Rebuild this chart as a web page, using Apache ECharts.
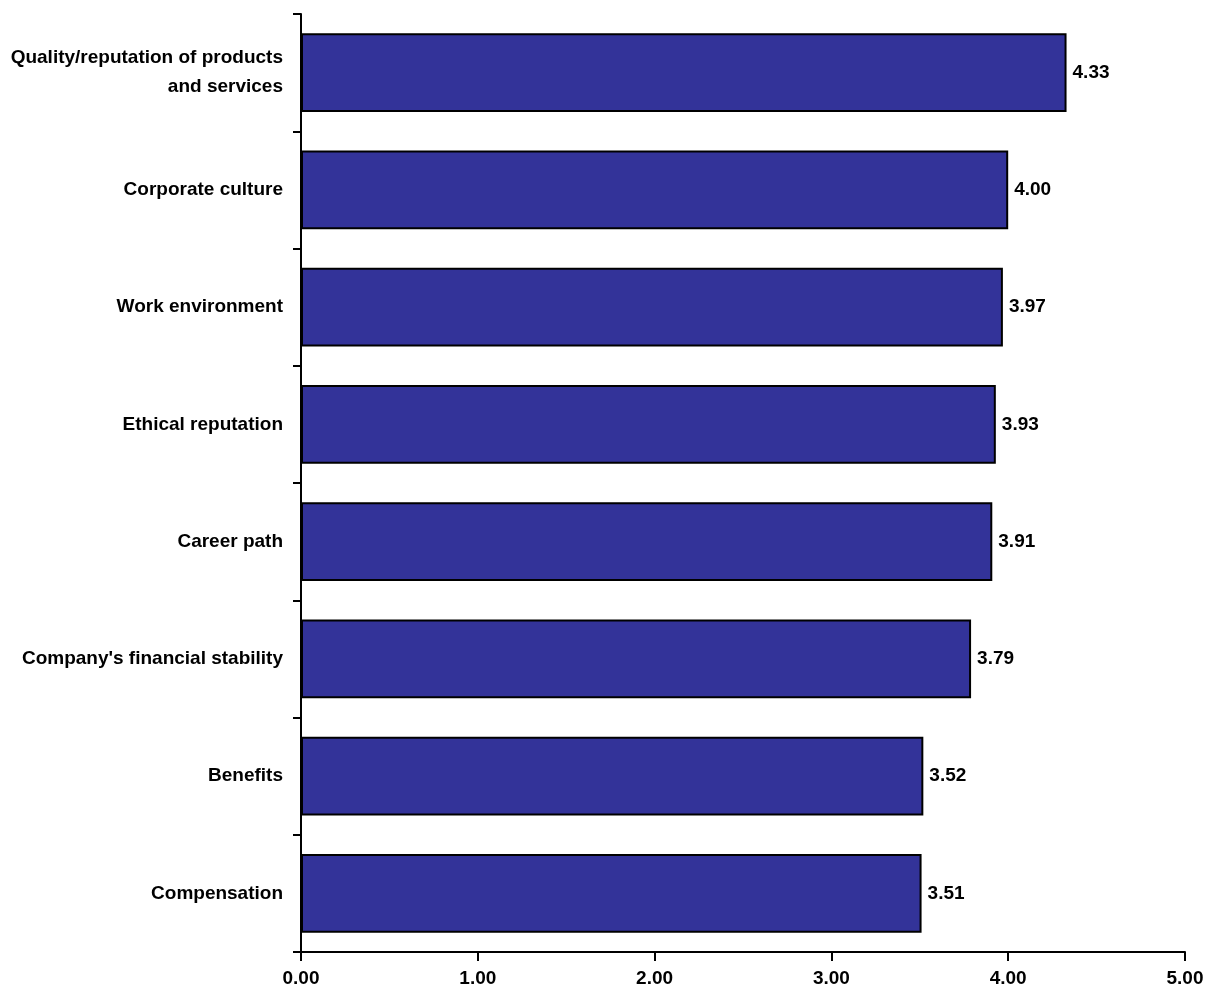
<!DOCTYPE html>
<html>
<head>
<meta charset="utf-8">
<script src="https://cdn.jsdelivr.net/npm/echarts@6/dist/echarts.min.js"></script>
<style>
  html, body { margin: 0; padding: 0; background: #fff; }
  #chart { width: 1215px; height: 999px; }
</style>
</head>
<body>
<div id="chart"></div>
<script>
// Factors rated by respondents (top to bottom) and their mean scores
const categories = [
  'Quality/reputation of products\nand services',
  'Corporate culture',
  'Work environment',
  'Ethical reputation',
  'Career path',
  "Company's financial stability",
  'Benefits',
  'Compensation'
];
const scores = [4.33, 4.00, 3.97, 3.93, 3.91, 3.79, 3.52, 3.51];
const xTicks = [0, 1, 2, 3, 4, 5];

const FONT = '"Liberation Sans Narrow", "Arial Narrow", "Liberation Sans", Arial, sans-serif';

const chart = echarts.init(document.getElementById('chart'));
chart.setOption({
  animation: false,
  backgroundColor: '#ffffff',
  grid: { left: 301, right: 30, top: 14, bottom: 47, containLabel: false },
  xAxis: {
    type: 'value',
    min: xTicks[0],
    max: xTicks[xTicks.length - 1],
    interval: 1,
    axisLine: { show: true, lineStyle: { color: '#000', width: 2 } },
    axisTick: { show: true, length: 9, inside: false, lineStyle: { color: '#000', width: 2 } },
    axisLabel: {
      color: '#000', fontFamily: FONT, fontWeight: 'bold', fontSize: 19, margin: 17,
      formatter: v => v.toFixed(2)
    },
    splitLine: { show: false }
  },
  yAxis: {
    type: 'category',
    data: categories,
    inverse: true,
    axisLine: { show: true, lineStyle: { color: '#000', width: 2 } },
    axisTick: { show: true, length: 8, alignWithLabel: false, lineStyle: { color: '#000', width: 2 } },
    axisLabel: {
      color: '#000', fontFamily: FONT, fontWeight: 'bold', fontSize: 19, margin: 18,
      lineHeight: 29, align: 'right'
    },
    splitLine: { show: false }
  },
  series: [{
    type: 'bar',
    data: scores,
    barCategoryGap: '33%',
    itemStyle: { color: '#333399', borderColor: '#000', borderWidth: 2 },
    label: {
      show: true, position: 'right', distance: 6,
      color: '#000', fontFamily: FONT, fontWeight: 'bold', fontSize: 19,
      formatter: p => p.value.toFixed(2)
    }
  }]
});
</script>
</body>
</html>
